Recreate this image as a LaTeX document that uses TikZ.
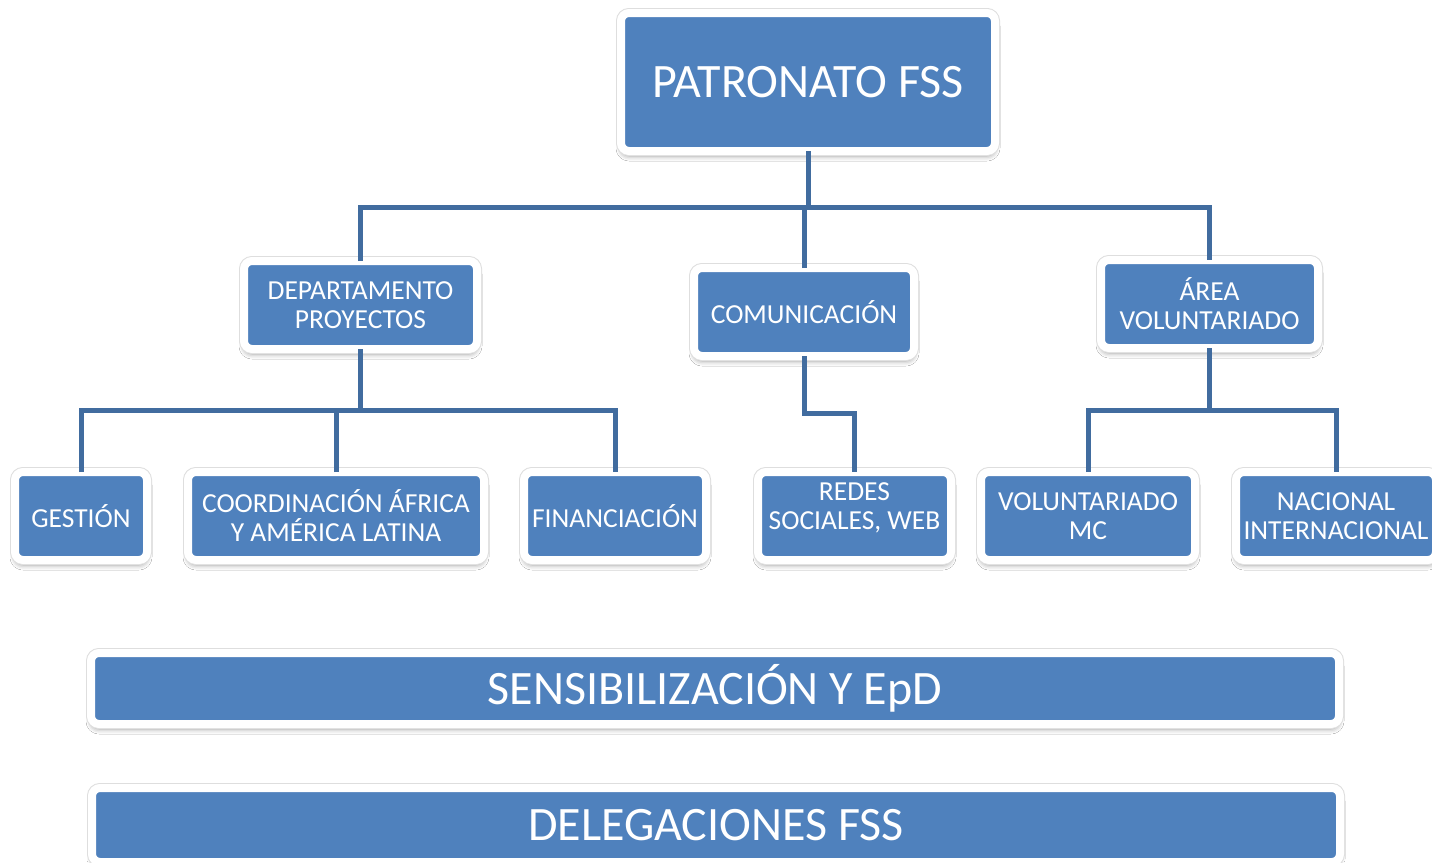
\documentclass[tikz,border=0pt]{standalone}
\usepackage{fontspec}
\setmainfont{Carlito}
\usetikzlibrary{shadows.blur}
\definecolor{boxblue}{HTML}{4F81BD}
\definecolor{lineblue}{HTML}{416C9F}
\tikzset{
  orgbox/.style={rectangle, rounded corners=8pt, fill=boxblue, draw=white, line width=8pt,
    outer sep=0pt, inner sep=2pt, text=white, align=center,
    font=\fontsize{27.5}{29}\selectfont,
    blur shadow={shadow xshift=0pt, shadow yshift=-5pt, shadow blur radius=5pt, shadow opacity=40},
    preaction={draw=black!13, line width=10pt}},
  bigbox/.style={orgbox, font=\fontsize{48}{52}\selectfont},
  lbl/.style={text=white, align=center, font=\fontsize{27.5}{29}\selectfont},
  conn/.style={draw=lineblue, line width=5pt}
}
\begin{document}
\begin{tikzpicture}[x=1pt,y=-1pt]
\useasboundingbox[fill=white] (0,0) rectangle (1432,862);
% top
\node[bigbox, minimum width=374pt, minimum height=138pt] (pat) at (808,82) {PATRONATO FSS};
% level 1
\node[orgbox, minimum width=233pt, minimum height=88pt] (dep) at (360.5,305) {DEPARTAMENTO\\PROYECTOS};
\node[orgbox, minimum width=220pt, minimum height=88pt] (com) at (804,312) {COMUNICACIÓN};
\node[orgbox, minimum width=217pt, minimum height=88pt] (are) at (1209.5,304) {ÁREA\\VOLUNTARIADO};
% level 2
\node[orgbox, minimum width=132pt, minimum height=88pt] (ges) at (81,516) {GESTIÓN};
\node[orgbox, minimum width=296pt, minimum height=88pt] (coo) at (336,516) {COORDINACIÓN ÁFRICA\\Y AMÉRICA LATINA};
\node[orgbox, minimum width=182pt, minimum height=88pt] (fin) at (615,516) {FINANCIACIÓN};
\node[orgbox, minimum width=193pt, minimum height=88pt,
  label={[lbl, yshift=8pt]center:{REDES\\SOCIALES, WEB}}] (red) at (854.5,516) {};
\node[orgbox, minimum width=214pt, minimum height=88pt] (vmc) at (1088,516) {VOLUNTARIADO\\MC};
\node[orgbox, minimum width=200pt, minimum height=88pt] (nac) at (1336,516) {NACIONAL\\INTERNACIONAL};
% bands
\node[bigbox, minimum width=1248pt, minimum height=71pt] (sen) at (715,688.5) {SENSIBILIZACIÓN Y EpD};
\node[bigbox, minimum width=1248pt, minimum height=74pt] (del) at (716,825) {DELEGACIONES FSS};
% bus coordinates
\coordinate (bus1) at (0,207);
\coordinate (bus2) at (0,410);
\coordinate (bus3) at (0,413);
% connectors level 1
\draw[conn] (pat.south) -- (pat.south |- bus1);
\draw[conn] (dep.north) |- (are.north |- bus1) -- (are.north);
\draw[conn] (com.north) -- (com.north |- bus1);
% connectors level 2
\draw[conn] (dep.south) -- (dep.south |- bus2);
\draw[conn] (ges.north) |- (fin.north |- bus2) -- (fin.north);
\draw[conn] (coo.north) -- (coo.north |- bus2);
\draw[conn] (com.south) -- (com.south |- bus3) -| (red.north);
\draw[conn] (are.south) -- (are.south |- bus2);
\draw[conn] (vmc.north) |- (nac.north |- bus2) -- (nac.north);
\end{tikzpicture}
\end{document}
